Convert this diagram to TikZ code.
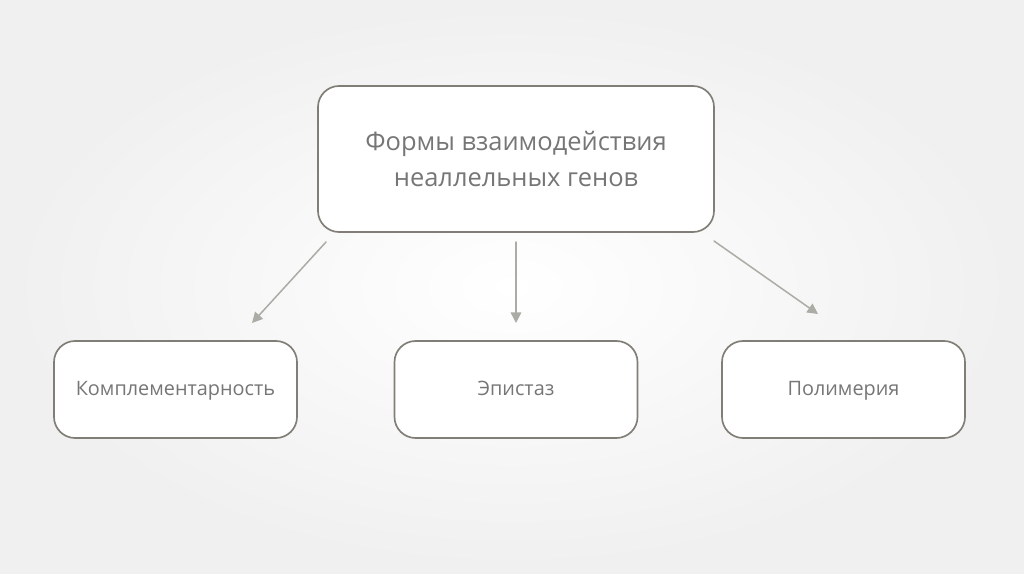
\documentclass[tikz,border=0pt]{standalone}
\usepackage{fontspec}
\setmainfont{Open Sans}
\usetikzlibrary{arrows.meta}
\definecolor{boxline}{RGB}{128,126,118}
\definecolor{txtgray}{RGB}{118,118,118}
\definecolor{arrgray}{RGB}{172,172,166}
\tikzset{
  formbox/.style={draw=boxline,line width=0.95pt,rounded corners=12pt,fill=white,
    text=txtgray,align=center,inner sep=0pt},
  lowbox/.style={formbox,minimum width=243*0.02cm,minimum height=97*0.02cm,
    font=\fontsize{11.3}{14}\selectfont,text height=1.6ex,text depth=0.4ex},
  arr/.style={draw=arrgray,line width=0.85pt,-{Triangle[length=6pt,width=6pt]}}
}
\begin{document}
\begin{tikzpicture}[x=0.02cm,y=-0.02cm,line cap=round,line join=round]
  \shade[inner color=white,outer color=black!6] (0,0) rectangle (1024,574);
  \useasboundingbox (0,0) rectangle (1024,574);
  \node[formbox,minimum width=396*0.02cm,minimum height=146*0.02cm,
    font=\fontsize{14.5}{21}\selectfont] (top) at (516,159)
    {Формы взаимодействия\\неаллельных генов};
  \node[lowbox] (compl) at (175.5,389.5) {Комплементарность};
  \node[lowbox] (epist) at (516,389.5) {Эпистаз};
  \node[lowbox] (polym) at (843.5,389.5) {Полимерия};
  \coordinate (s1) at (326,242);
  \coordinate (e1) at (252,323);
  \coordinate (s2) at (516,242);
  \coordinate (e2) at (516,323);
  \coordinate (s3) at (714,241);
  \coordinate (e3) at (818,314);
  \draw[arr] (s1) -- (e1);
  \draw[arr] (s2) -- (e2);
  \draw[arr] (s3) -- (e3);
\end{tikzpicture}
\end{document}
